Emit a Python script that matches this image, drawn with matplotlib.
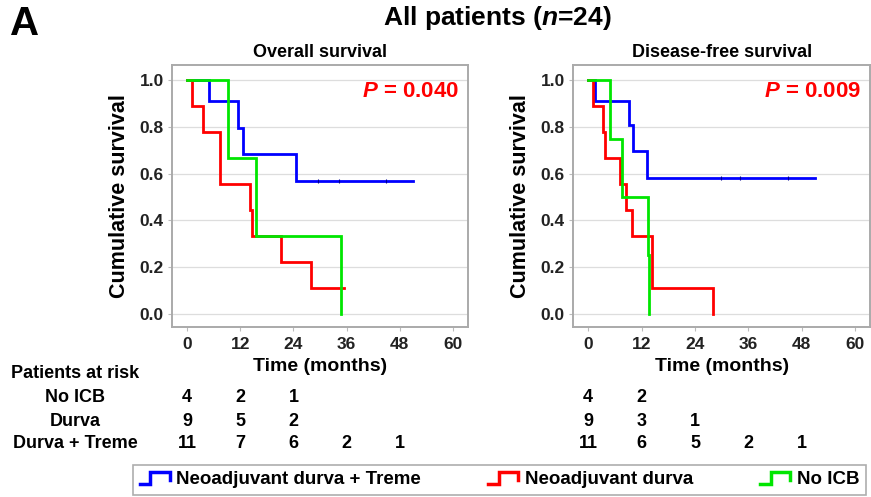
import numpy as np
import matplotlib
matplotlib.use("Agg")
import matplotlib.pyplot as plt
from matplotlib.lines import Line2D
from matplotlib.legend_handler import HandlerBase
from matplotlib.transforms import blended_transform_factory

plt.rcParams['font.family'] = ['Liberation Sans', 'DejaVu Sans']
plt.rcParams['font.weight'] = 'bold'
plt.rcParams['axes.titleweight'] = 'bold'
plt.rcParams['axes.labelweight'] = 'bold'
plt.rcParams['mathtext.fontset'] = 'custom'
plt.rcParams['mathtext.rm'] = 'Liberation Sans:bold'
plt.rcParams['mathtext.bfit'] = 'Liberation Sans:italic:bold'

# Colours for the three groups
c_dt = '#0000ff'
c_d = '#ff0000'
c_no = '#00e600'

# Overall survival (months, survival probability)
os_dt_t = [0, 5.0, 11.4, 12.6, 24.6, 51.0]
os_dt_s = [1.0, 0.909, 0.795, 0.682, 0.568, 0.568]
os_dt_cens = [29.6, 34.3, 45.0]
os_d_t = [0, 1.0, 3.5, 7.4, 14.1, 14.7, 21.2, 28.0, 35.4]
os_d_s = [1.0, 0.889, 0.778, 0.556, 0.444, 0.333, 0.222, 0.111, 0.111]
os_no_t = [0, 9.3, 15.6, 34.8]
os_no_s = [1.0, 0.667, 0.333, 0.0]

# Disease-free survival
dfs_dt_t = [0, 1.5, 9.2, 10.1, 13.3, 51.1]
dfs_dt_s = [1.0, 0.909, 0.808, 0.697, 0.58, 0.58]
dfs_dt_cens = [29.9, 34.2, 44.9]
dfs_d_t = [0, 1.0, 3.4, 3.8, 7.2, 8.4, 9.8, 14.3, 28.0]
dfs_d_s = [1.0, 0.889, 0.778, 0.667, 0.556, 0.444, 0.333, 0.111, 0.0]
dfs_no_t = [0, 4.8, 7.7, 13.5, 13.7]
dfs_no_s = [1.0, 0.75, 0.5, 0.25, 0.0]

# Patients at risk at 0, 12, 24, 36, 48 months
risk_times = [0, 12, 24, 36, 48]
risk_labels = ['No ICB', 'Durva', 'Durva + Treme']
os_risk = [[4, 2, 1], [9, 5, 2], [11, 7, 6, 2, 1]]
dfs_risk = [[4, 2], [9, 3, 1], [11, 6, 5, 2, 1]]

xticks = [0, 12, 24, 36, 48, 60]
yticks = [0.0, 0.2, 0.4, 0.6, 0.8, 1.0]

fig = plt.figure(figsize=(8.71, 4.97), dpi=100)
ax1 = fig.add_axes([0.1975, 0.342, 0.3398, 0.527])
ax2 = fig.add_axes([0.658, 0.342, 0.341, 0.527])


def km_panel(ax, curves, cens, pval, title):
    for t, s, col in curves:
        ax.step(t, s, where='post', color=col, lw=2.0, solid_joinstyle='miter')
    ct, cs = cens
    ax.plot(ct, [cs] * len(ct), ls='none', marker='|', ms=2.5, mew=0.8,
            color='#000090')
    ax.set_xlim(-3.4, 63.4)
    ax.set_ylim(-0.056, 1.064)
    ax.set_xticks(xticks)
    ax.set_yticks(yticks)
    ax.set_yticklabels([f'{v:.1f}' for v in yticks])
    ax.tick_params(labelsize=12.5, colors='#bbbbbb', length=3, width=0.8,
                   labelcolor='#222222', pad=3)
    ax.tick_params(axis='x', pad=4)
    ax.grid(axis='y', color='#dddddd', lw=0.9)
    ax.set_axisbelow(True)
    for sp in ax.spines.values():
        sp.set_color('#aaaaaa')
        sp.set_linewidth(1.4)
    ax.set_ylabel('Cumulative survival', fontsize=15.5, labelpad=7)
    ax.set_xlabel('Time (months)', fontsize=14)
    ax.xaxis.set_label_coords(0.5, -0.118)
    ax.set_title(title, fontsize=13, pad=6)
    ax.text(0.97, 0.9, r'$\bfit{P}$' + ' = ' + pval, transform=ax.transAxes,
            ha='right', va='center', color='#ff0000', fontsize=16)


km_panel(ax1, [(os_dt_t, os_dt_s, c_dt), (os_d_t, os_d_s, c_d),
               (os_no_t, os_no_s, c_no)], (os_dt_cens, 0.568), '0.040',
         'Overall survival')
km_panel(ax2, [(dfs_dt_t, dfs_dt_s, c_dt), (dfs_d_t, dfs_d_s, c_d),
               (dfs_no_t, dfs_no_s, c_no)], (dfs_dt_cens, 0.58), '0.009',
         'Disease-free survival')

# Risk table
row_y = [1 - 398 / 497, 1 - 421 / 497, 1 - 444 / 497]
fig.text(75 / 871, 1 - 374 / 497, 'Patients at risk', ha='center',
         va='center', fontsize=13)
for lab, y in zip(risk_labels, row_y):
    fig.text(75 / 871, y, lab, ha='center', va='center', fontsize=13)
for ax, table in [(ax1, os_risk), (ax2, dfs_risk)]:
    tr = blended_transform_factory(ax.transData, fig.transFigure)
    for row, y in zip(table, row_y):
        for t, n in zip(risk_times, row):
            ax.text(t, y, str(n), transform=tr, ha='center', va='center',
                    fontsize=13, clip_on=False)

# Titles
fig.text(0.012, 1 - 24 / 497, 'A', fontsize=29, ha='left', va='center')
fig.text(497 / 871, 1 - 18 / 497, r'All patients ($\bfit{n}$=24)',
         ha='center', va='center', fontsize=19)


class StepHandler(HandlerBase):
    def create_artists(self, legend, orig_handle, xdescent, ydescent,
                       width, height, fontsize, trans):
        xs = np.array([0, 0.35, 0.35, 1.0, 1.0]) * width - xdescent
        ys = np.array([0.05, 0.05, 0.95, 0.95, 0.35]) * height - ydescent
        ln = Line2D(xs, ys, color=orig_handle.get_color(), lw=2.5,
                    solid_joinstyle='miter', transform=trans)
        return [ln]


handles = [Line2D([], [], color=c_dt), Line2D([], [], color=c_d),
           Line2D([], [], color=c_no)]
names = ['Neoadjuvant durva + Treme', 'Neoadjuvant durva', 'No ICB']
leg = fig.legend(handles, names, loc='lower left', ncol=3, mode='expand',
                 bbox_to_anchor=(133 / 871, 1 - 495 / 497, 733 / 871,
                                 35 / 497),
                 handler_map={Line2D: StepHandler()},
                 prop={'size': 13.5, 'weight': 'bold'},
                 frameon=True, fancybox=False, handlelength=1.6,
                 handletextpad=0.35, borderpad=0.35, borderaxespad=0)
leg.get_frame().set_edgecolor('#999999')
leg.get_frame().set_linewidth(1.2)

fig.savefig('out.png', dpi=100)
